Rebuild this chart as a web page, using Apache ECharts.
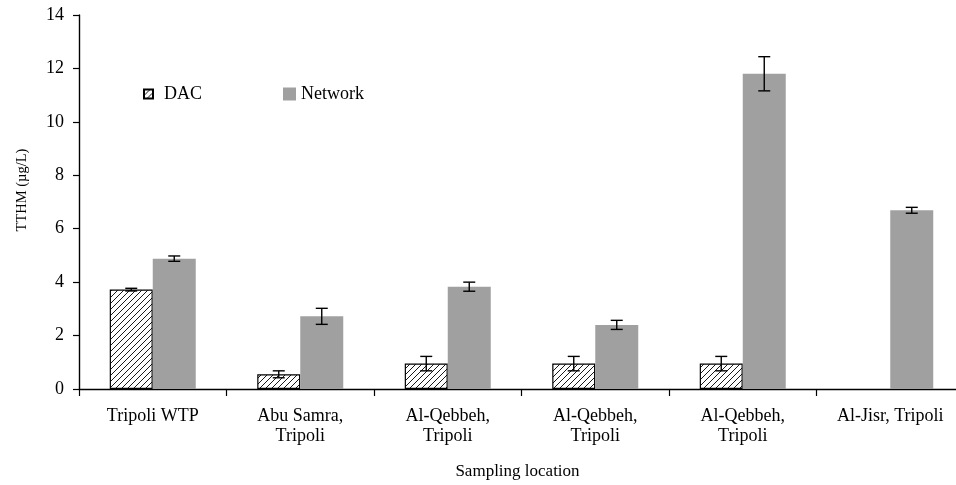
<!DOCTYPE html>
<html>
<head>
<meta charset="utf-8">
<script src="https://cdn.jsdelivr.net/npm/echarts@6/dist/echarts.min.js"></script>
<style>
  html, body { margin: 0; padding: 0; background: #fff; overflow: hidden; }
  #main { width: 964px; height: 485px; }
</style>
</head>
<body>
<div id="main"></div>
<script>
var locations = ['Tripoli WTP', 'Abu Samra,\nTripoli', 'Al-Qebbeh,\nTripoli', 'Al-Qebbeh,\nTripoli', 'Al-Qebbeh,\nTripoli', 'Al-Jisr, Tripoli'];
var dacValues = [3.72, 0.55, 0.95, 0.95, 0.95, null];
var dacErrors = [0.05, 0.13, 0.27, 0.27, 0.27, null];
var networkValues = [4.88, 2.72, 3.83, 2.4, 11.8, 6.69];
var networkErrors = [0.1, 0.3, 0.17, 0.17, 0.64, 0.11];

var BAR_W = 43;
var FONT = 'Liberation Serif';

// hatch pattern for DAC bars
function hatch() {
	var c = document.createElement('canvas');
	c.width = 6; c.height = 6;
	var ctx = c.getContext('2d');
	ctx.fillStyle = '#fff';
	ctx.fillRect(0, 0, 6, 6);
	ctx.strokeStyle = '#000';
	ctx.lineWidth = 0.9;
	ctx.beginPath();
	ctx.moveTo(0, 6); ctx.lineTo(6, 0);
	ctx.moveTo(-1, 1); ctx.lineTo(1, -1);
	ctx.moveTo(5, 7); ctx.lineTo(7, 5);
	ctx.stroke();
	return c;
}

function errorSeries(values, errors, offset) {
	var data = [];
	for (var i = 0; i < values.length; i++) {
		if (values[i] == null) continue;
		data.push([i, values[i] - errors[i], values[i] + errors[i]]);
	}
	return {
		type: 'custom',
		silent: true,
		z: 10,
		data: data,
		renderItem: function (params, api) {
			var lo = api.coord([api.value(0), api.value(1)]);
			var hi = api.coord([api.value(0), api.value(2)]);
			var x = lo[0] + offset;
			var hw = 6;
			var st = { stroke: '#000', lineWidth: 1.4 };
			return {
				type: 'group',
				children: [
					{ type: 'line', shape: { x1: x, y1: lo[1], x2: x, y2: hi[1] }, style: st },
					{ type: 'line', shape: { x1: x - hw, y1: lo[1], x2: x + hw, y2: lo[1] }, style: st },
					{ type: 'line', shape: { x1: x - hw, y1: hi[1], x2: x + hw, y2: hi[1] }, style: st }
				]
			};
		}
	};
}

var myChart = echarts.init(document.getElementById('main'));

var legendText = { fontFamily: FONT, fontSize: 18, color: '#000' };

myChart.setOption({
	animation: false,
	textStyle: { fontFamily: FONT },
	legend: [
		{
			left: 138,
			top: 80,
			itemWidth: 9,
			itemHeight: 9,
			icon: 'rect',
			textStyle: { fontFamily: FONT, fontSize: 18, color: '#000', padding: [0, 0, 0, 6] },
			data: ['DAC']
		},
		{
			left: 278,
			top: 80,
			itemWidth: 13,
			itemHeight: 13,
			icon: 'rect',
			textStyle: legendText,
			data: ['Network']
		}
	],
	grid: { left: 79, right: 0, top: 15, bottom: 95, containLabel: false },
	xAxis: {
		type: 'category',
		data: locations,
		name: 'Sampling location',
		nameLocation: 'middle',
		nameGap: 74,
		nameTextStyle: { fontFamily: FONT, fontSize: 17, color: '#000', padding: [0, 8, 0, 0] },
		axisLine: { lineStyle: { color: '#000', width: 1.4 } },
		axisTick: { show: true, length: 7, inside: false, lineStyle: { color: '#000', width: 1.2 } },
		axisLabel: { fontFamily: FONT, fontSize: 18, color: '#000', lineHeight: 20, margin: 17 }
	},
	yAxis: {
		type: 'value',
		min: 0,
		max: 14,
		interval: 2,
		name: 'TTHM (µg/L)',
		nameLocation: 'middle',
		nameRotate: 90,
		nameGap: 49,
		nameTextStyle: { fontFamily: FONT, fontSize: 14.5, color: '#000', padding: [0, 0, 0, 24] },
		splitLine: { show: false },
		axisLine: { show: true, lineStyle: { color: '#000', width: 1.4 } },
		axisTick: { show: true, length: 6, lineStyle: { color: '#000', width: 1.2 } },
		axisLabel: { fontFamily: FONT, fontSize: 18, color: '#000', margin: 15 }
	},
	series: [
		{
			name: 'DAC',
			type: 'bar',
			data: dacValues,
			barWidth: BAR_W,
			barGap: '0%',
			itemStyle: {
				color: { image: hatch(), repetition: 'repeat' },
				borderColor: '#000',
				borderWidth: 1.2
			}
		},
		{
			name: 'Network',
			type: 'bar',
			data: networkValues,
			barWidth: BAR_W,
			barGap: '0%',
			itemStyle: { color: '#a0a0a0' }
		},
		errorSeries(dacValues, dacErrors, -BAR_W / 2),
		errorSeries(networkValues, networkErrors, BAR_W / 2)
	]
});
</script>
</body>
</html>
